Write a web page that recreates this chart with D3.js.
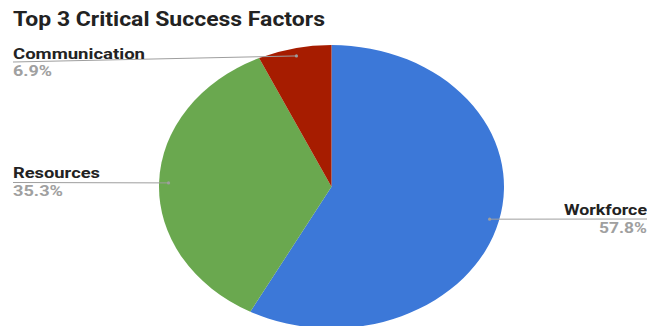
<!DOCTYPE html>
<html>
<head>
<meta charset="utf-8">
<script src="https://d3js.org/d3.v7.min.js"></script>
<style>
  body { margin: 0; background: #fff; }
  text { font-family: Roboto, "Open Sans", sans-serif; font-weight: bold; }
</style>
</head>
<body>
<div id="chart"></div>
<script>
// data
var factors = ["Workforce", "Resources", "Communication"];
var shares = [57.8, 35.3, 6.9];
var colours = ["#3c78d8", "#6aa84f", "#a61c00"];

var width = 647, height = 326;

var svg = d3.select("#chart").append("svg")
    .attr("width", width)
    .attr("height", height);

// title
svg.append("text")
    .attr("x", 13).attr("y", 26)
    .attr("textLength", 312).attr("lengthAdjust", "spacingAndGlyphs")
    .style("font-size", "19.5px").style("fill", "#222")
    .text("Top 3 Critical Success Factors");

// pie is squashed into an ellipse like the original
var cx = 331.5, cy = 186.7, r = 141.7, sx = 172.5 / 141.7;

var pie = d3.pie().sort(null).value(function(d) { return d; });
var arcs = pie(shares);
var arc = d3.arc().innerRadius(0).outerRadius(r);
var dotArc = d3.arc().innerRadius(r * 0.945).outerRadius(r * 0.945);

var g = svg.append("g")
    .attr("transform", "translate(" + cx + "," + cy + ") scale(" + sx + ",1)");

g.selectAll("path")
  .data(arcs)
  .enter()
  .append("path")
    .attr("d", arc)
    .style("fill", function(d, i) { return colours[i]; });

// label layout for each slice: end of leader line, text anchor, text positions
var labelLayout = [
  {endX: 647, endY: 219, anchor: "end", tx: 647, ty: 215, py: 233, nameW: 83, pctW: 48},
  {endX: 13, endY: 182.5, anchor: "start", tx: 13, ty: 178, py: 196, nameW: 87, pctW: 50},
  {endX: 13, endY: 62, anchor: "start", tx: 13, ty: 58.5, py: 76, nameW: 132, pctW: 39}
];

arcs.forEach(function(d, i) {
  var c = dotArc.centroid(d);
  var px = cx + c[0] * sx, py = cy + c[1];
  var L = labelLayout[i];

  svg.append("line")
      .attr("x1", px).attr("y1", py)
      .attr("x2", L.endX).attr("y2", L.endY)
      .style("stroke", "#9e9e9e").style("stroke-width", 1);
  svg.append("circle")
      .attr("cx", px).attr("cy", py).attr("r", 1.6)
      .style("fill", "#9e9e9e");

  svg.append("text")
      .attr("x", L.tx).attr("y", L.ty)
      .attr("text-anchor", L.anchor)
      .attr("textLength", L.nameW).attr("lengthAdjust", "spacingAndGlyphs")
      .style("font-size", "15.5px").style("fill", "#222")
      .text(factors[i]);
  svg.append("text")
      .attr("x", L.tx).attr("y", L.py)
      .attr("text-anchor", L.anchor)
      .attr("textLength", L.pctW).attr("lengthAdjust", "spacingAndGlyphs")
      .style("font-size", "14.5px").style("fill", "#a0a0a0")
      .text(d3.format(".1f")(shares[i]) + "%");
});
</script>
</body>
</html>
